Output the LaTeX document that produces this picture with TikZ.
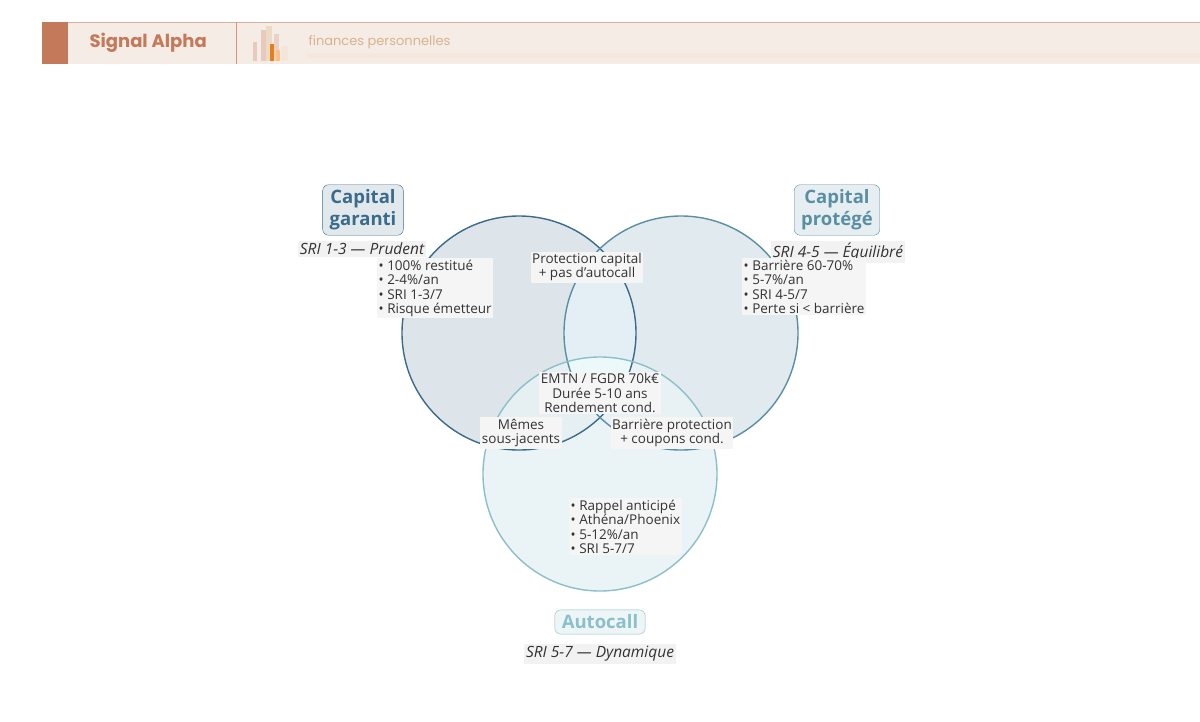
\documentclass[tikz,border=0pt]{standalone}
\usepackage{fontspec}
\setmainfont{Open Sans}
\newfontfamily\popp{Poppins}
\begin{document}
\begin{tikzpicture}[x=1pt,y=-1pt,
  txt/.style={font=\fontsize{13.5}{14.5}\selectfont, text=black!80, fill=gray!8, inner sep=1.5pt, align=center},
  lst/.style={font=\fontsize{13.5}{14.5}\selectfont, text=black!80, fill=gray!8, inner sep=1.5pt, align=left, anchor=north west},
  sub/.style={font=\fontsize{15.5}{17}\selectfont\itshape, text=black!80, fill=gray!10, inner sep=2pt},
  ttl/.style={font=\fontsize{18.5}{22}\selectfont\bfseries, rounded corners=6pt, draw, inner xsep=7pt, inner ysep=5pt, align=center}]
\definecolor{cA}{HTML}{3A6B8A}\definecolor{cB}{HTML}{5A8FA3}\definecolor{cC}{HTML}{8BBFCA}
\definecolor{hd}{HTML}{F6ECE6}\definecolor{hb}{HTML}{C47A5A}
\useasboundingbox (0,0) rectangle (1200,721);
\fill[white] (0,0) rectangle (1200,721);
% header
\fill[hd] (42,22) rectangle (1200,64);
\draw[hb!60,line width=0.8pt] (42,22) -- (1200,22);
\fill[hb] (42,22) rectangle (68,64);
\draw[hb!80] (236,22) -- (236,64);
\node[font=\popp\fontsize{18}{20}\selectfont, text=hb, anchor=west] (brand) at (86,43) {\bfseries Signal Alpha};
\fill[hb!40] (253,42) rectangle (257,61);
\fill[hb!30!hd] (261,30) rectangle (266,61);
\fill[brown!30] (266,26) rectangle (272,61);
\fill[orange!60!brown] (270,44) rectangle (274,61);
\fill[hb!35] (274,34) rectangle (279,61);
\fill[orange!50] (276,50) rectangle (280,61);
\fill[brown!20] (281,46) rectangle (288,61);
\fill[brown!18] (307,53) rectangle (1200,58);
\node[font=\popp\fontsize{13}{15}\selectfont, text=brown!60, anchor=west] (tag) at (305,42) {finances personnelles};
% circles
\fill[fill={rgb,255:red,221;green,229;blue,235}] (519,333) circle (117);
\fill[fill={rgb,255:red,225;green,234;blue,238}] (681,333) circle (117);
\fill[fill={rgb,255:red,234;green,243;blue,245}] (600,474) circle (117);
\begin{scope}\clip (519,333) circle (117);
 \fill[fill={rgb,255:red,228;green,239;blue,245}] (681,333) circle (117);
 \fill[fill={rgb,255:red,230;green,240;blue,243}] (600,474) circle (117);
\end{scope}
\begin{scope}\clip (681,333) circle (117);
 \fill[fill={rgb,255:red,232;green,242;blue,245}] (600,474) circle (117);
 \clip (519,333) circle (117);
 \fill[fill={rgb,255:red,236;green,248;blue,250}] (600,474) circle (117);
\end{scope}
\draw[cA, line width=1.4pt] (519,333) circle (117);
\draw[cB, line width=1.4pt] (681,333) circle (117);
\draw[cC, line width=1.4pt] (600,474) circle (117);
% titles
\node[ttl, draw=cA, fill=cA!15, text=cA] (t1) at (363,210) {Capital\\garanti};
\node[ttl, draw=cB, fill=cB!15, text=cB] (t2) at (837,210) {Capital\\protégé};
\node[ttl, draw=cC, fill=cC!15, text=cC] (t3) at (600,622) {Autocall};
\node[sub] (s1) at (362,249) {SRI 1-3 — Prudent};
\node[sub] (s2) at (838,252) {SRI 4-5 — Équilibré};
\node[sub] (s3) at (600,654) {SRI 5-7 — Dynamique};
% lists
\node[lst] (l1) at (377,258) {• 100\% restitué\\• 2-4\%/an\\• SRI 1-3/7\\• Risque émetteur};
\node[lst] (l2) at (742,258) {• Barrière 60-70\%\\• 5-7\%/an\\• SRI 4-5/7\\• Perte si < barrière};
\node[lst] (l3) at (569,498) {• Rappel anticipé\\• Athéna/Phoenix\\• 5-12\%/an\\• SRI 5-7/7};
% overlaps
\node[txt] (o1) at (587,267) {Protection capital\\+ pas d'autocall};
\node[txt] (o2) at (600,393) {EMTN / FGDR 70k€\\Durée 5-10 ans\\Rendement cond.};
\node[txt] (o3) at (521,433) {Mêmes\\sous-jacents};
\node[txt] (o4) at (672,433) {Barrière protection\\+ coupons cond.};
\end{tikzpicture}
\end{document}
